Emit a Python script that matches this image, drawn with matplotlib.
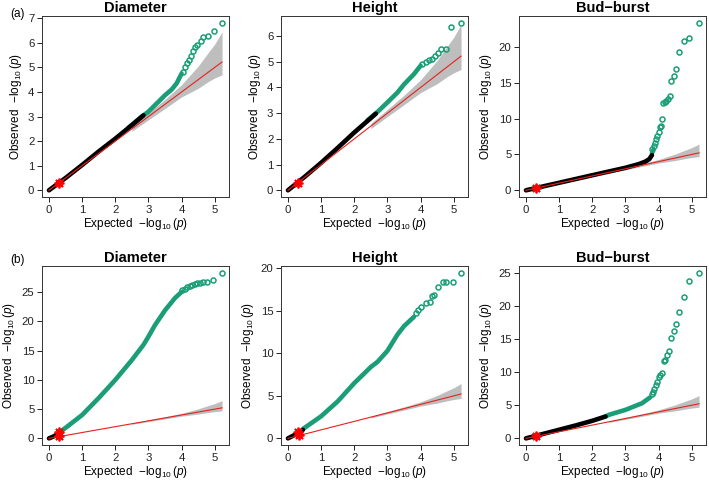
import matplotlib.pyplot as plt

plt.rcParams['font.family'] = ['Liberation Sans', 'DejaVu Sans']
plt.rcParams['mathtext.fontset'] = 'custom'
plt.rcParams['mathtext.rm'] = 'Liberation Sans'
plt.rcParams['mathtext.it'] = 'Liberation Sans:italic'

GREEN = '#1b9e77'
BAND = '#bebebe'

# expected -log10(p) for the diagonal and the confidence band (shared by all panels)
diag_x = [0, 5.22]
band_x = [2.5, 3.0, 3.5, 4.0, 4.5, 4.8, 5.0, 5.22]
band_hi = [2.6, 3.15, 3.7, 4.3, 5.05, 5.6, 5.95, 6.45]
band_lo = [2.4, 2.87, 3.33, 3.8, 4.15, 4.42, 4.57, 4.7]

# (a) Diameter
a_diam_black_x = [0, 0.5, 1.0, 1.5, 2.0, 2.5, 2.85]
a_diam_black_y = [0, 0.5, 1.03, 1.58, 2.1, 2.65, 3.05]
a_diam_green_x = [2.4, 2.8, 3.0, 3.3, 3.5, 3.7, 3.85, 4.0]
a_diam_green_y = [2.55, 3.0, 3.2, 3.6, 3.87, 4.1, 4.35, 4.75]
a_diam_tail_x = [4.04, 4.09, 4.15, 4.23, 4.28, 4.35, 4.41, 4.47, 4.58, 4.66, 4.8, 4.98, 5.22]
a_diam_tail_y = [4.83, 5.0, 5.16, 5.31, 5.45, 5.65, 5.82, 5.93, 6.06, 6.23, 6.26, 6.48, 6.82]

# (a) Height
a_height_black_x = [0, 0.5, 1.0, 1.5, 2.0, 2.4, 2.65]
a_height_black_y = [0, 0.52, 1.07, 1.65, 2.25, 2.7, 2.98]
a_height_green_x = [2.4, 2.7, 3.0, 3.3, 3.5, 3.8, 4.0]
a_height_green_y = [2.72, 3.05, 3.42, 3.8, 4.12, 4.52, 4.85]
a_height_tail_x = [4.05, 4.15, 4.25, 4.35, 4.43, 4.53, 4.63, 4.77, 4.93, 5.22]
a_height_tail_y = [4.93, 4.99, 5.06, 5.12, 5.23, 5.35, 5.49, 5.49, 6.34, 6.52]

# (a) Bud-burst
a_bud_black_x = [0, 1.0, 2.0, 3.0, 3.4, 3.6, 3.72, 3.8]
a_bud_black_y = [0, 1.05, 2.1, 3.14, 3.65, 4.0, 4.35, 4.9]
a_bud_green_x = [3.8, 3.84]
a_bud_green_y = [5.2, 5.6]
a_bud_tail_x = [3.81, 3.85, 3.88, 3.93, 3.96, 4.0, 4.03, 4.08, 4.11, 4.13, 4.18, 4.23, 4.28,
                4.33, 4.38, 4.45, 4.53, 4.63, 4.76, 4.93, 5.23]
a_bud_tail_y = [5.8, 6.2, 6.65, 7.1, 7.6, 8.15, 8.76, 8.9, 9.9, 12.2, 12.3, 12.4, 12.8,
                13.2, 15.2, 16.0, 16.96, 19.3, 20.8, 21.26, 23.37]

# (b) Diameter
b_diam_black_x = [0, 0.15, 0.3]
b_diam_black_y = [0, 0.35, 0.9]
b_diam_green_x = [0.3, 0.5, 1.0, 1.5, 2.0, 2.5, 2.85, 3.0, 3.2, 3.5, 3.8, 4.0]
b_diam_green_y = [1.0, 1.8, 4.0, 6.9, 10.0, 13.4, 16.0, 17.4, 19.4, 21.9, 24.0, 25.05]
b_diam_tail_x = [4.02, 4.09, 4.17, 4.25, 4.32, 4.39, 4.47, 4.55, 4.65, 4.77, 4.95, 5.22]
b_diam_tail_y = [25.3, 25.6, 25.9, 26.1, 26.2, 26.36, 26.5, 26.65, 26.76, 26.76, 27.16, 28.35]

# (b) Height
b_height_black_x = [0, 0.2, 0.45]
b_height_black_y = [0, 0.4, 1.0]
b_height_green_x = [0.45, 1.0, 1.5, 2.0, 2.5, 2.7, 3.0, 3.3, 3.5, 3.8]
b_height_green_y = [1.1, 2.6, 4.35, 6.5, 8.4, 9.0, 10.3, 12.2, 13.2, 14.3]
b_height_tail_x = [3.86, 3.91, 4.01, 4.17, 4.27, 4.35, 4.40, 4.52, 4.67, 4.77, 4.97, 5.22]
b_height_tail_y = [14.7, 15.1, 15.4, 15.9, 16.08, 16.8, 16.9, 17.84, 18.36, 18.36, 18.35, 19.5]

# (b) Bud-burst
b_bud_black_x = [0, 0.5, 1.0, 1.5, 2.0, 2.4]
b_bud_black_y = [0, 0.65, 1.3, 1.95, 2.65, 3.3]
b_bud_green_x = [2.4, 2.5, 3.0, 3.5, 3.75]
b_bud_green_y = [3.3, 3.55, 4.3, 5.3, 6.2]
b_bud_tail_x = [3.79, 3.83, 3.86, 3.91, 3.96, 4.0, 4.05, 4.11, 4.15, 4.18, 4.25, 4.31,
                4.38, 4.46, 4.53, 4.63, 4.76, 4.93, 5.23]
b_bud_tail_y = [6.7, 7.0, 7.5, 8.0, 8.5, 9.2, 9.5, 9.8, 11.6, 11.8, 12.6, 13.2,
                15.2, 16.2, 17.2, 19.0, 21.3, 23.7, 25.0]

# highlighted SNPs (red)
a_mark_x, a_mark_y = [0.3], [0.3]
b_diam_mark_x, b_diam_mark_y = [0.3, 0.3], [0.45, 1.1]
b_height_mark_x, b_height_mark_y = [0.32, 0.3], [0.35, 0.8]
b_bud_mark_x, b_bud_mark_y = [0.3], [0.35]

panels = [
    ('Diameter', a_diam_black_x, a_diam_black_y, a_diam_green_x, a_diam_green_y,
     a_diam_tail_x, a_diam_tail_y, a_mark_x, a_mark_y, list(range(0, 8))),
    ('Height', a_height_black_x, a_height_black_y, a_height_green_x, a_height_green_y,
     a_height_tail_x, a_height_tail_y, a_mark_x, a_mark_y, list(range(0, 7))),
    ('Bud\u2212burst', a_bud_black_x, a_bud_black_y, a_bud_green_x, a_bud_green_y,
     a_bud_tail_x, a_bud_tail_y, a_mark_x, a_mark_y, [0, 5, 10, 15, 20]),
    ('Diameter', b_diam_black_x, b_diam_black_y, b_diam_green_x, b_diam_green_y,
     b_diam_tail_x, b_diam_tail_y, b_diam_mark_x, b_diam_mark_y, [0, 5, 10, 15, 20, 25]),
    ('Height', b_height_black_x, b_height_black_y, b_height_green_x, b_height_green_y,
     b_height_tail_x, b_height_tail_y, b_height_mark_x, b_height_mark_y, [0, 5, 10, 15, 20]),
    ('Bud\u2212burst', b_bud_black_x, b_bud_black_y, b_bud_green_x, b_bud_green_y,
     b_bud_tail_x, b_bud_tail_y, b_bud_mark_x, b_bud_mark_y, [0, 5, 10, 15, 20, 25]),
]

W, H = 709, 484
fig = plt.figure(figsize=(W / 100, H / 100), dpi=100)

lefts = [42, 281, 519]
rows = [(16, 197), (266, 445)]

for i, p in enumerate(panels):
    title, bx, by, gx, gy, tx, ty, mx, my, yt = p
    top, bot = rows[i // 3]
    left = lefts[i % 3]
    ax = fig.add_axes([left / W, 1 - bot / H, 187 / W, (bot - top) / H])

    ax.fill_between(band_x, band_lo, band_hi, color=BAND, lw=0, zorder=1)
    ax.plot(gx, gy, color=GREEN, lw=3.3, solid_capstyle='round', solid_joinstyle='round', zorder=2)
    ax.plot(tx, ty, 'o', mfc='none', mec=GREEN, ms=3.6, mew=1.1, zorder=2)
    ax.plot(bx, by, color='black', lw=3.3, solid_capstyle='round', solid_joinstyle='round', zorder=3)
    ax.plot(diag_x, diag_x, color='#e8201c', lw=0.8, zorder=4)
    ax.plot(mx, my, marker=(8, 2, 0), ls='none', color='red', ms=7, mew=1.3, zorder=5)

    ymax = max(ty)
    ax.set_xlim(-0.21, 5.43)
    ax.set_ylim(-0.04 * ymax, 1.04 * ymax)
    ax.set_xticks([0, 1, 2, 3, 4, 5])
    ax.set_yticks(yt)
    ax.tick_params(direction='out', length=3.5, width=0.7, labelsize=8.2, pad=2, colors='#222222')
    for s in ax.spines.values():
        s.set_linewidth(0.7)
        s.set_color('#333333')
    ax.set_title(title, fontsize=10.5, fontweight='bold', pad=3)
    ax.set_xlabel(r'Expected  $-\log_{10}(p)$', fontsize=8.5, labelpad=1)
    ax.set_ylabel(r'Observed  $-\log_{10}(p)$', fontsize=8.5, labelpad=3)

fig.text(10 / W, 1 - 14 / H, '(a)', fontsize=8.5, va='center')
fig.text(10 / W, 1 - 260 / H, '(b)', fontsize=8.5, va='center')

fig.savefig('out.png', dpi=100)
